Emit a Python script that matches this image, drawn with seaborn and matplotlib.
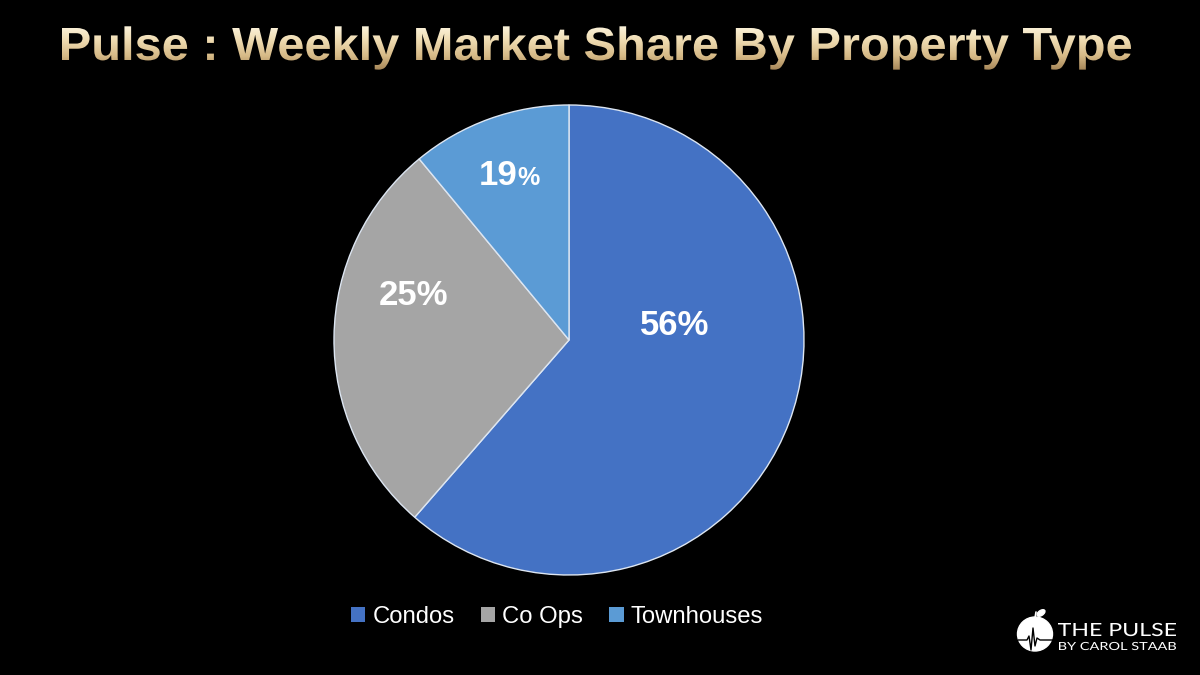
import numpy as np
import matplotlib
matplotlib.use("Agg")
import matplotlib.pyplot as plt
import seaborn as sns
from matplotlib.textpath import TextPath
from matplotlib.patches import PathPatch, Ellipse
from matplotlib.font_manager import FontProperties
from matplotlib.transforms import Affine2D

# data
categories = ["Condos", "Co Ops", "Townhouses"]
wedge_share = [61.4, 27.6, 11.0]          # slice sizes as drawn
label_number = ["56", "25", "19"]          # labels as printed on the slices
colors = ["#4472C4", "#A5A5A5", "#5B9BD5"]

title = "Pulse : Weekly Market Share By Property Type"

sns.set_theme(style="dark")
plt.rcParams["font.family"] = ["Liberation Sans", "DejaVu Sans"]

W, H = 1200, 675
fig = plt.figure(figsize=(12, 6.75), dpi=100, facecolor="black")

# background axes in pixel coords (y grows upward)
bg = fig.add_axes([0, 0, 1, 1])
bg.set_xlim(0, W)
bg.set_ylim(0, H)
bg.axis("off")
bg.set_facecolor("black")


def fitted_path(s, x0, x1, baseline, cap, prop):
    """TextPath scaled so caps are `cap` px tall and text spans x0..x1."""
    tp = TextPath((0, 0), s, size=100, prop=prop)
    cap_ref = TextPath((0, 0), "H", size=100, prop=prop).get_extents().height
    ext = tp.get_extents()
    sy = cap / cap_ref
    sx = (x1 - x0) / ext.width
    tr = Affine2D().translate(-ext.x0, 0).scale(sx, sy).translate(x0, H - baseline)
    return tr.transform_path(tp)


# title with gold gradient
tprop = FontProperties(family="Liberation Sans", weight="bold")
tpath = fitted_path(title, 62, 1131, 60, 32, tprop)
te = tpath.get_extents()
grad = np.linspace(0, 1, 256).reshape(-1, 1)
gold = matplotlib.colors.LinearSegmentedColormap.from_list(
    "gold", ["#fdf6e2", "#efdcb2", "#d6b986", "#9f7f52"])
img = bg.imshow(grad, cmap=gold, aspect="auto", origin="upper",
                extent=(te.x0, te.x1, te.y0 - 2, te.y1 + 2), zorder=3)
clip = PathPatch(tpath, transform=bg.transData, facecolor="none", edgecolor="none")
bg.add_patch(clip)
img.set_clip_path(clip)

# pie
ax = fig.add_axes([(569 - 235) / W, (H - 575) / H, 470 / W, 470 / H])
ax.set_facecolor("black")
wedges, _ = ax.pie(wedge_share, colors=colors, startangle=90, counterclock=False,
                   radius=1, wedgeprops=dict(edgecolor="#dde6f2", linewidth=1.0))
ax.set_xlim(-1, 1)
ax.set_ylim(-1, 1)
ax.axis("off")

# label placement (angle in degrees, fraction of radius)
label_layout = [(8, 0.455), (164, 0.69), (110, 0.745)]
pct_scale = [1.0, 1.0, 0.72]
fig.canvas.draw()
rend = fig.canvas.get_renderer()
for num, (ang, r), sc in zip(label_number, label_layout, pct_scale):
    x, y = r * np.cos(np.radians(ang)), r * np.sin(np.radians(ang))
    y -= 10 / 235
    if sc == 1.0:
        ax.text(x, y, num + "%", color="white", fontsize=25, fontweight="bold",
                ha="center", va="baseline")
        continue
    t1 = ax.text(x, y, num, color="white", fontsize=25, fontweight="bold",
                 ha="right", va="baseline")
    t2 = ax.text(x, y, "%", color="white", fontsize=25 * sc, fontweight="bold",
                 ha="left", va="baseline")
    w1 = t1.get_window_extent(rend).width
    w2 = t2.get_window_extent(rend).width
    dx = (w1 - w2) / 2 / 235
    t1.set_position((x + dx, y))
    t2.set_position((x + dx, y))

# legend
leg = fig.legend(wedges, categories, loc="center", bbox_to_anchor=(557 / W, 1 - 617 / H),
                 ncol=3, frameon=False, fontsize=17.2, labelcolor="white",
                 handlelength=0.6, handleheight=0.6, handletextpad=0.3,
                 columnspacing=1.1)
for h in leg.legend_handles:
    h.set_edgecolor("none")

# logo
bg.add_patch(Ellipse((1035, H - 634), 35, 34, color="white", zorder=4))
bg.add_patch(Ellipse((1041, H - 613), 9, 5, angle=35, color="white", zorder=4))
bg.plot([1035, 1036], [H - 618, H - 612], color="white", lw=1.2, zorder=4)
px = [1018, 1027, 1029, 1031, 1033, 1035, 1037, 1040, 1053]
py = [0, 0, 4, -10, 12, -6, 2, 0, 0]
bg.plot(px, [H - 640 + v for v in py], color="black", lw=1.0, zorder=5)

lprop = FontProperties(family="Lato")
bg.add_patch(PathPatch(fitted_path("THE PULSE", 1058, 1176, 636, 13, lprop),
                       facecolor="white", edgecolor="none", zorder=4))
bg.add_patch(PathPatch(fitted_path("BY CAROL STAAB", 1059, 1176, 650, 8, lprop),
                       facecolor="white", edgecolor="none", zorder=4))

fig.savefig("out.png", dpi=100, facecolor="black")
